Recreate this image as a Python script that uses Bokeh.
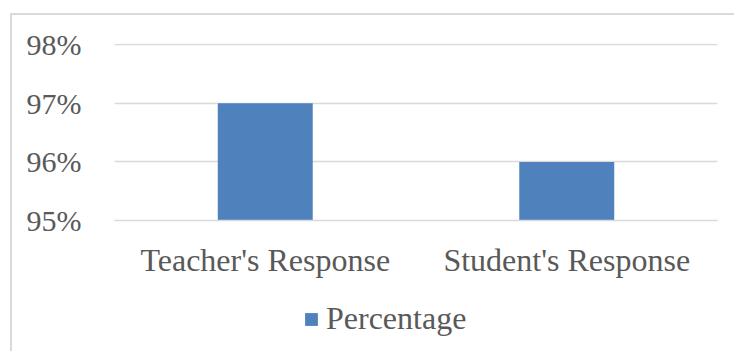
from bokeh.plotting import figure
from bokeh.layouts import column
from bokeh.models import (FactorRange, FixedTicker, NumeralTickFormatter, Range1d,
                          Legend, LegendItem, ColumnDataSource)
from bokeh.embed import file_html
from bokeh.resources import INLINE

categories = ["Teacher's Response", "Student's Response"]
percentages = [0.97, 0.96]
y_ticks = [0.95, 0.96, 0.97, 0.98]
series_name = "Percentage"

FONT = "Liberation Serif"
TEXT = "#595959"
GRID = "#d9d9d9"
BAR = "#4f81bd"

src = ColumnDataSource(dict(cat=categories, val=percentages))

p = figure(width=722, height=275, output_backend="svg", toolbar_location=None,
           x_range=FactorRange(*categories, range_padding=0),
           y_range=Range1d(y_ticks[0], y_ticks[-1] + 0.0002),
           min_border_left=102, min_border_right=17, min_border_top=28,
           min_border_bottom=70)
p.outline_line_color = None
p.background_fill_color = "white"
p.border_fill_color = "white"

r = p.vbar(x="cat", top="val", bottom=y_ticks[0], width=0.315, source=src,
           fill_color=BAR, line_color=None)

p.x_range.factor_padding = 0
p.xgrid.grid_line_color = None
p.ygrid.grid_line_color = GRID
p.ygrid.grid_line_width = 1.5
p.yaxis.ticker = FixedTicker(ticks=y_ticks)
p.yaxis.formatter = NumeralTickFormatter(format="0%")
for ax in (p.xaxis[0], p.yaxis[0]):
    ax.axis_line_color = None
    ax.major_tick_line_color = None
    ax.minor_tick_line_color = None
    ax.major_label_text_font = FONT
    ax.major_label_text_color = TEXT
p.yaxis.major_label_text_font_size = "30px"
p.xaxis.major_label_text_font_size = "32px"
p.yaxis.major_label_standoff = 27
p.xaxis.major_label_standoff = 15
p.xaxis.axis_line_color = GRID
p.xaxis.axis_line_width = 1.5

# legend strip below the plot (same series styling, hidden copy of the bars)
lg = figure(width=722, height=61, output_backend="svg", toolbar_location=None,
            x_axis_type=None, y_axis_type=None,
            x_range=FactorRange(*categories), y_range=Range1d(0, 0.5),
            min_border_left=0, min_border_right=0, min_border_top=0,
            min_border_bottom=0)
lg.outline_line_color = None
lg.xgrid.grid_line_color = None
lg.ygrid.grid_line_color = None
lg.border_fill_color = "white"
lg.background_fill_color = "white"
lr = lg.vbar(x="cat", top="val", width=0.315, source=src,
             fill_color=BAR, line_color=None, visible=False)

legend = Legend(items=[LegendItem(label=series_name, renderers=[lr])],
                location=(189, 14), orientation="horizontal",
                label_text_font=FONT, label_text_font_size="32px",
                label_text_color=TEXT, glyph_width=16, glyph_height=16,
                label_standoff=7, padding=0, margin=0, spacing=0,
                inactive_fill_alpha=0, click_policy="none",
                border_line_color=None, background_fill_alpha=0)
lg.add_layout(legend, "center")

layout = column(p, lg, spacing=0, margin=(13, 0, 0, 10),
                styles={"border-left": "2px solid #d9d9d9",
                        "border-top": "2px solid #d9d9d9",
                        "box-sizing": "content-box"})

open("out.html", "w").write(file_html(layout, INLINE))
